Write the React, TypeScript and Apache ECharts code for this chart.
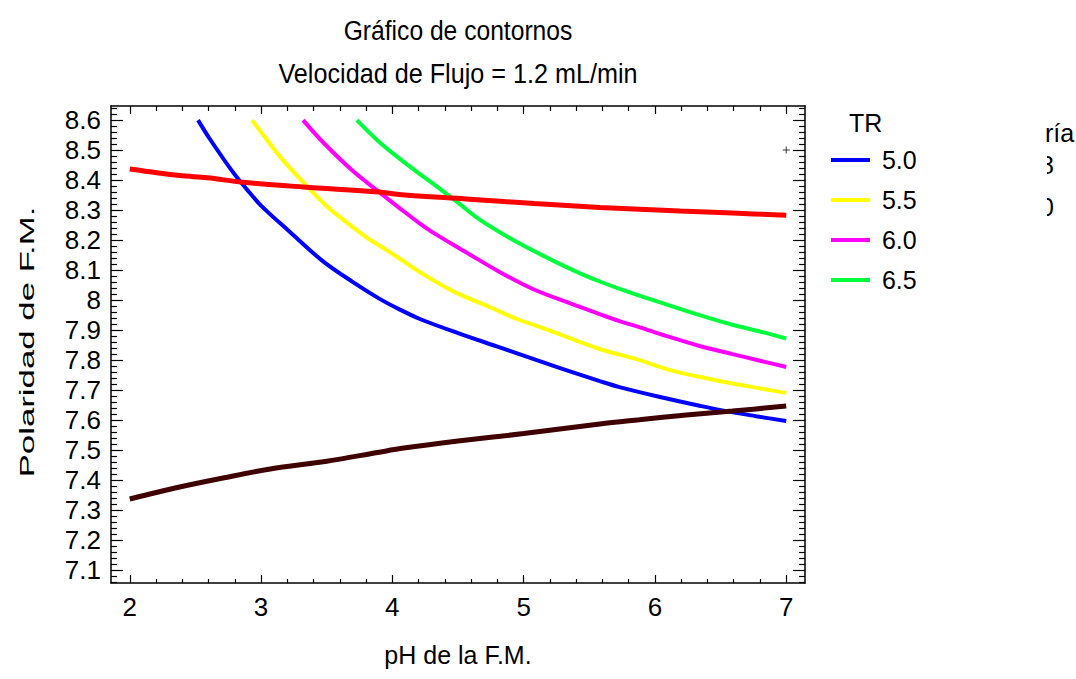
import React, { useEffect, useRef } from "react";
import * as echarts from "echarts";

// ---- data ----
const xMajor = [2, 3, 4, 5, 6, 7];
const xMinor = [2.2, 2.4, 2.6, 2.8, 3.2, 3.4, 3.6, 3.8, 4.2, 4.4, 4.6, 4.8, 5.2, 5.4, 5.6, 5.8, 6.2, 6.4, 6.6, 6.8];
const yMajor = [7.1, 7.2, 7.3, 7.4, 7.5, 7.6, 7.7, 7.8, 7.9, 8, 8.1, 8.2, 8.3, 8.4, 8.5, 8.6];
const yMinor = [
  7.06, 7.08, 7.12, 7.14, 7.16, 7.18, 7.22, 7.24, 7.26, 7.28, 7.32, 7.34, 7.36, 7.38,
  7.42, 7.44, 7.46, 7.48, 7.52, 7.54, 7.56, 7.58, 7.62, 7.64, 7.66, 7.68, 7.72, 7.74, 7.76, 7.78,
  7.82, 7.84, 7.86, 7.88, 7.92, 7.94, 7.96, 7.98, 8.02, 8.04, 8.06, 8.08, 8.12, 8.14, 8.16, 8.18,
  8.22, 8.24, 8.26, 8.28, 8.32, 8.34, 8.36, 8.38, 8.42, 8.44, 8.46, 8.48, 8.52, 8.54, 8.56, 8.58, 8.62, 8.64,
];

const legendNames = ["5.0", "5.5", "6.0", "6.5"];

const tr50X = [2.52, 2.61, 2.78, 2.89, 3.0, 3.22, 3.47, 3.7, 3.9, 4.05, 4.21, 4.5, 4.8, 5.0, 5.3, 5.58, 5.73, 6.03, 6.34, 6.54, 6.77, 7.0];
const tr50Y = [8.6, 8.537, 8.43, 8.37, 8.315, 8.227, 8.13, 8.06, 8.005, 7.97, 7.937, 7.89, 7.845, 7.815, 7.77, 7.73, 7.71, 7.678, 7.648, 7.63, 7.613, 7.597];

const tr55X = [2.93, 3.04, 3.14, 3.32, 3.5, 3.62, 3.8, 3.98, 4.06, 4.21, 4.46, 4.74, 4.95, 5.17, 5.58, 5.86, 6.13, 6.41, 6.59, 6.85, 7.0];
const tr55Y = [8.6, 8.537, 8.48, 8.393, 8.313, 8.27, 8.21, 8.16, 8.137, 8.093, 8.03, 7.977, 7.937, 7.903, 7.837, 7.803, 7.765, 7.738, 7.722, 7.702, 7.69];

const tr60X = [3.32, 3.47, 3.7, 3.9, 4.06, 4.21, 4.31, 4.56, 4.82, 5.07, 5.33, 5.58, 5.73, 5.88, 6.09, 6.34, 6.59, 6.8, 7.0];
const tr60Y = [8.6, 8.527, 8.43, 8.36, 8.305, 8.255, 8.225, 8.16, 8.093, 8.037, 7.993, 7.953, 7.93, 7.91, 7.88, 7.847, 7.82, 7.798, 7.777];

const tr65X = [3.73, 3.9, 4.06, 4.21, 4.31, 4.49, 4.66, 4.89, 5.14, 5.4, 5.58, 5.78, 6.09, 6.34, 6.59, 6.85, 7.0];
const tr65Y = [8.6, 8.527, 8.47, 8.42, 8.388, 8.328, 8.27, 8.208, 8.15, 8.095, 8.062, 8.03, 7.985, 7.95, 7.918, 7.89, 7.872];

const redX = [2.0, 2.38, 2.59, 2.86, 3.32, 3.9, 4.05, 4.56, 5.08, 5.58, 6.19, 6.59, 7.0];
const redY = [8.437, 8.415, 8.408, 8.393, 8.377, 8.36, 8.352, 8.337, 8.322, 8.309, 8.297, 8.29, 8.283];

const darkX = [2.0, 2.38, 2.71, 3.07, 3.5, 3.9, 4.06, 4.5, 5.0, 5.58, 5.88, 6.24, 6.59, 7.0];
const darkY = [7.337, 7.377, 7.407, 7.437, 7.463, 7.493, 7.505, 7.53, 7.555, 7.587, 7.601, 7.617, 7.63, 7.647];

const markerPoint = [7.0, 8.5];

const FONT = "'Liberation Sans', Arial, sans-serif";

function pairs(xs: number[], ys: number[]) {
  return xs.map((x, i) => [x, ys[i]]);
}

export default function App() {
  const ref = useRef<HTMLDivElement>(null);

  useEffect(() => {
    document.body.style.margin = "0";
    if (!ref.current) return;
    const chart = echarts.init(ref.current, null, { renderer: "svg" });

    const X_MIN = 1.857;
    const X_MAX = 7.143;
    const Y_MIN = 7.057;
    const Y_MAX = 8.647;
    const lineC = { color: "#000", width: 1.5 };

    const xBase = (position: string, ticks: number[], len: number, showLine: boolean, showLabel: boolean, extra: any = {}) => ({
      type: "value",
      position,
      min: X_MIN,
      max: X_MAX,
      gridIndex: 0,
      splitLine: { show: false },
      axisLine: { show: showLine, onZero: false, lineStyle: lineC },
      axisTick: { show: true, inside: true, length: len, customValues: ticks, lineStyle: { color: "#000", width: 1.2 } },
      axisLabel: showLabel
        ? { show: true, customValues: ticks, fontSize: 26, fontFamily: FONT, color: "#000", margin: 11 }
        : { show: false },
      ...extra,
    });

    const yBase = (position: string, ticks: number[], len: number, showLine: boolean, showLabel: boolean) => ({
      type: "value",
      position,
      min: Y_MIN,
      max: Y_MAX,
      gridIndex: 0,
      splitLine: { show: false },
      axisLine: { show: showLine, onZero: false, lineStyle: lineC },
      axisTick: { show: true, inside: true, length: len, customValues: ticks, lineStyle: { color: "#000", width: 1.2 } },
      axisLabel: showLabel
        ? { show: true, customValues: ticks, fontSize: 26, fontFamily: FONT, color: "#000", margin: 10, formatter: (v: number) => String(Math.round(v * 10) / 10) }
        : { show: false },
    });

    const colors = ["#0000ff", "#ffff00", "#ff00ff", "#00ff3c"];
    const trData = [pairs(tr50X, tr50Y), pairs(tr55X, tr55Y), pairs(tr60X, tr60Y), pairs(tr65X, tr65Y)];

    const option: any = {
      animation: false,
      backgroundColor: "#fff",
      grid: { left: 111, top: 106, width: 694, height: 477, containLabel: false },
      xAxis: [
        xBase("bottom", xMajor, 8, true, true, {
          name: "pH de la F.M.",
          nameLocation: "middle",
          nameGap: 59,
          nameTextStyle: { fontSize: 25, fontFamily: FONT, color: "#000" },
        }),
        xBase("bottom", xMinor, 4, false, false),
        xBase("top", xMajor, 8, true, false),
        xBase("top", xMinor, 5, false, false),
      ],
      yAxis: [
        yBase("left", yMajor, 12, true, true),
        yBase("left", yMinor, 6, false, false),
        yBase("right", yMajor, 12, true, false),
        yBase("right", yMinor, 6, false, false),
      ],
      legend: {
        show: true,
        orient: "vertical",
        left: 831,
        top: 145,
        padding: 0,
        itemWidth: 39,
        itemHeight: 4,
        itemGap: 10,
        icon: "rect",
        data: legendNames,
        formatter: (n: string) => " " + n,
        textStyle: { fontSize: 25, fontFamily: FONT, color: "#000", lineHeight: 30 },
        selectedMode: false,
      },
      series: [
        ...legendNames.map((name, i) => ({
          name,
          type: "line",
          xAxisIndex: 0,
          yAxisIndex: 0,
          data: trData[i],
          showSymbol: false,
          symbol: "none",
          smooth: 0.35,
          color: colors[i],
          lineStyle: { color: colors[i], width: 4 },
          z: 3,
        })),
        {
          name: "superior",
          type: "line",
          xAxisIndex: 0,
          yAxisIndex: 0,
          data: pairs(redX, redY),
          showSymbol: false,
          symbol: "none",
          smooth: 0.35,
          color: "#ff0000",
          lineStyle: { color: "#ff0000", width: 5 },
          z: 4,
        },
        {
          name: "inferior",
          type: "line",
          xAxisIndex: 0,
          yAxisIndex: 0,
          data: pairs(darkX, darkY),
          showSymbol: false,
          symbol: "none",
          smooth: 0.35,
          color: "#3f0000",
          lineStyle: { color: "#3f0000", width: 5 },
          z: 4,
        },
        {
          name: "optimo",
          type: "scatter",
          xAxisIndex: 0,
          yAxisIndex: 0,
          data: [markerPoint],
          symbol: "path://M3,0 H4 V3 H7 V4 H4 V7 H3 V4 H0 V3 H3 Z",
          symbolSize: 7,
          itemStyle: { color: "#000" },
          silent: true,
          z: 5,
        },
      ],
      graphic: [
        {
          type: "text",
          x: 458,
          y: 30,
          scaleX: 0.88,
          style: { text: "Gráfico de contornos", fontSize: 28, fontFamily: FONT, fill: "#000", align: "center", verticalAlign: "middle" },
        },
        {
          type: "text",
          x: 458,
          y: 74,
          scaleX: 0.9,
          style: { text: "Velocidad de Flujo = 1.2 mL/min", fontSize: 28, fontFamily: FONT, fill: "#000", align: "center", verticalAlign: "middle" },
        },
        {
          type: "text",
          x: 27,
          y: 342,
          rotation: Math.PI / 2,
          scaleX: 1.74,
          scaleY: 1,
          style: { text: "Polaridad de F.M.", fontSize: 20, fontFamily: FONT, fill: "#000", align: "center", verticalAlign: "middle" },
        },
        {
          type: "text",
          x: 849,
          y: 123,
          style: { text: "TR", fontSize: 25, fontFamily: FONT, fill: "#000", align: "left", verticalAlign: "middle" },
        },
        {
          type: "text",
          x: 1045,
          y: 133,
          style: { text: "ría", fontSize: 25, fontFamily: FONT, fill: "#000", align: "left", verticalAlign: "middle" },
        },
        {
          type: "text",
          x: 1054,
          y: 165,
          style: { text: "8", fontSize: 25, fontFamily: FONT, fill: "#000", align: "right", verticalAlign: "middle" },
        },
        {
          type: "text",
          x: 1054,
          y: 207,
          style: { text: "0", fontSize: 25, fontFamily: FONT, fill: "#000", align: "right", verticalAlign: "middle" },
        },
        {
          type: "rect",
          shape: { x: 1020, y: 148, width: 27, height: 80 },
          style: { fill: "#fff" },
          z: 100,
        },
      ],
    };

    chart.setOption(option);
    return () => chart.dispose();
  }, []);

  return <div ref={ref} style={{ width: 1076, height: 679 }} />;
}
